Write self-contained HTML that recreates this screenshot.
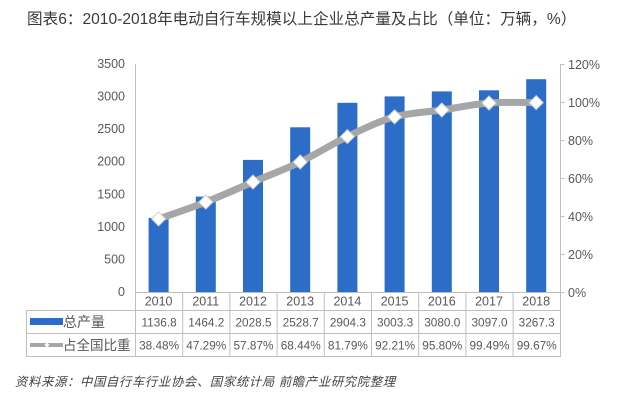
<!DOCTYPE html>
<html>
<head>
<meta charset="utf-8">
<style>
  html,body{margin:0;padding:0;background:#fff;}
  svg{display:block;}
  text{font-family:"Liberation Sans","Noto Sans CJK SC",sans-serif;}
</style>
</head>
<body>
<svg width="629" height="401" viewBox="0 0 629 401" xmlns="http://www.w3.org/2000/svg">
  <rect width="629" height="401" fill="#ffffff"/>
  <!-- Title -->
  <text x="27" y="24" font-size="15.6" fill="#3a3a3a">图表6：2010-2018年电动自行车规模以上企业总产量及占比（单位：万辆，%）</text>

  <!-- Left axis labels -->
  <g font-size="12.5" fill="#595959" text-anchor="end">
    <text x="125" y="68">3500</text>
    <text x="125" y="100.6">3000</text>
    <text x="125" y="133.1">2500</text>
    <text x="125" y="165.7">2000</text>
    <text x="125" y="198.3">1500</text>
    <text x="125" y="230.9">1000</text>
    <text x="125" y="263.4">500</text>
    <text x="125" y="296">0</text>
  </g>
  <!-- Right axis labels -->
  <g font-size="12.5" fill="#595959">
    <text x="568" y="69">120%</text>
    <text x="568" y="107">100%</text>
    <text x="568" y="145">80%</text>
    <text x="568" y="183">60%</text>
    <text x="568" y="221">40%</text>
    <text x="568" y="259">20%</text>
    <text x="568" y="297">0%</text>
  </g>

  <!-- Bars -->
  <g fill="#2c6dc8">
    <rect x="148.6" y="217.9" width="20" height="74.1"/>
    <rect x="195.8" y="196.6" width="20" height="95.4"/>
    <rect x="243.0" y="159.9" width="20" height="132.1"/>
    <rect x="290.2" y="127.3" width="20" height="164.7"/>
    <rect x="337.4" y="102.8" width="20" height="189.2"/>
    <rect x="384.6" y="96.4" width="20" height="195.6"/>
    <rect x="431.8" y="91.4" width="20" height="200.6"/>
    <rect x="479.0" y="90.3" width="20" height="201.7"/>
    <rect x="526.2" y="79.2" width="20" height="212.8"/>
  </g>

  <!-- Axes -->
  <g stroke="#bfbfbf" stroke-width="1" fill="none">
    <line x1="135.5" y1="64" x2="135.5" y2="292"/>
    <line x1="560.5" y1="64" x2="560.5" y2="292"/>
    <line x1="560.5" y1="64.5" x2="564.5" y2="64.5"/>
    <line x1="560.5" y1="102.5" x2="564.5" y2="102.5"/>
    <line x1="560.5" y1="140.5" x2="564.5" y2="140.5"/>
    <line x1="560.5" y1="178.5" x2="564.5" y2="178.5"/>
    <line x1="560.5" y1="216.5" x2="564.5" y2="216.5"/>
    <line x1="560.5" y1="254.5" x2="564.5" y2="254.5"/>
    <line x1="560.5" y1="292.5" x2="564.5" y2="292.5"/>
  </g>

  <!-- Line series -->
  <path d="M158.6,218.9 C166.5,216.1 190.1,208.25 205.8,202.1 C221.5,195.95 237.3,188.7 253.0,182.0 C268.7,175.3 284.5,169.6 300.2,162.0 C315.9,154.4 331.7,144.1 347.4,136.6 C363.1,129.1 378.9,121.2 394.6,116.8 C410.3,112.4 426.1,112.3 441.8,110.0 C457.5,107.7 473.3,104.2 489.0,103.0 C504.7,101.8 528.3,102.67 536.2,102.6"
        fill="none" stroke="#a6a6a6" stroke-width="7" stroke-linecap="round" stroke-linejoin="round"/>
  <g fill="#ffffff" stroke="#d0d0d0" stroke-width="1">
    <path d="M158.6,211.9 L165.6,218.9 L158.6,225.9 L151.6,218.9 Z"/>
    <path d="M205.8,195.1 L212.8,202.1 L205.8,209.1 L198.8,202.1 Z"/>
    <path d="M253.0,175.0 L260.0,182.0 L253.0,189.0 L246.0,182.0 Z"/>
    <path d="M300.2,155.0 L307.2,162.0 L300.2,169.0 L293.2,162.0 Z"/>
    <path d="M347.4,129.6 L354.4,136.6 L347.4,143.6 L340.4,136.6 Z"/>
    <path d="M394.6,109.8 L401.6,116.8 L394.6,123.8 L387.6,116.8 Z"/>
    <path d="M441.8,103.0 L448.8,110.0 L441.8,117.0 L434.8,110.0 Z"/>
    <path d="M489.0,96.0 L496.0,103.0 L489.0,110.0 L482.0,103.0 Z"/>
    <path d="M536.2,95.6 L543.2,102.6 L536.2,109.6 L529.2,102.6 Z"/>
  </g>

  <!-- Data table grid -->
  <g stroke="#bfbfbf" stroke-width="1" fill="none">
    <line x1="135" y1="292.5" x2="561" y2="292.5"/>
    <line x1="26" y1="310.5" x2="561" y2="310.5"/>
    <line x1="26" y1="333.5" x2="561" y2="333.5"/>
    <line x1="26" y1="356.5" x2="561" y2="356.5"/>
    <line x1="26.5" y1="310" x2="26.5" y2="357"/>
    <line x1="135.5" y1="292" x2="135.5" y2="357"/>
    <line x1="182.7" y1="292" x2="182.7" y2="357"/>
    <line x1="229.9" y1="292" x2="229.9" y2="357"/>
    <line x1="277.1" y1="292" x2="277.1" y2="357"/>
    <line x1="324.3" y1="292" x2="324.3" y2="357"/>
    <line x1="371.5" y1="292" x2="371.5" y2="357"/>
    <line x1="418.7" y1="292" x2="418.7" y2="357"/>
    <line x1="465.9" y1="292" x2="465.9" y2="357"/>
    <line x1="513.1" y1="292" x2="513.1" y2="357"/>
    <line x1="560.5" y1="292" x2="560.5" y2="357"/>
  </g>

  <!-- Category labels -->
  <g font-size="12.5" fill="#595959" text-anchor="middle">
    <text x="158.6" y="305.5">2010</text>
    <text x="205.8" y="305.5">2011</text>
    <text x="253.0" y="305.5">2012</text>
    <text x="300.2" y="305.5">2013</text>
    <text x="347.4" y="305.5">2014</text>
    <text x="394.6" y="305.5">2015</text>
    <text x="441.8" y="305.5">2016</text>
    <text x="489.0" y="305.5">2017</text>
    <text x="536.2" y="305.5">2018</text>
  </g>
  <!-- Row 1 -->
  <rect x="30" y="318" width="33" height="7" fill="#2c6dc8"/>
  <text x="63" y="327" font-size="14" fill="#595959">总产量</text>
  <g font-size="11.8" fill="#595959" text-anchor="middle">
    <text x="159.1" y="326.5">1136.8</text>
    <text x="206.3" y="326.5">1464.2</text>
    <text x="253.5" y="326.5">2028.5</text>
    <text x="300.7" y="326.5">2528.7</text>
    <text x="347.9" y="326.5">2904.3</text>
    <text x="395.1" y="326.5">3003.3</text>
    <text x="442.3" y="326.5">3080.0</text>
    <text x="489.5" y="326.5">3097.0</text>
    <text x="536.7" y="326.5">3267.3</text>
  </g>
  <!-- Row 2 -->
  <line x1="30" y1="345" x2="63" y2="345" stroke="#a6a6a6" stroke-width="4"/>
  <path d="M47,342.5 L49.5,345 L47,347.5 L44.5,345 Z" fill="#fff"/>
  <text x="63" y="350" font-size="13.5" fill="#595959">占全国比重</text>
  <g font-size="11.8" fill="#595959" text-anchor="middle">
    <text x="159.1" y="349.5">38.48%</text>
    <text x="206.3" y="349.5">47.29%</text>
    <text x="253.5" y="349.5">57.87%</text>
    <text x="300.7" y="349.5">68.44%</text>
    <text x="347.9" y="349.5">81.79%</text>
    <text x="395.1" y="349.5">92.21%</text>
    <text x="442.3" y="349.5">95.80%</text>
    <text x="489.5" y="349.5">99.49%</text>
    <text x="536.7" y="349.5">99.67%</text>
  </g>

  <!-- Source -->
  <text x="15" y="386" font-size="12.4" font-style="italic" letter-spacing="0.6" fill="#444">资料来源：中国自行车行业协会、国家统计局 前瞻产业研究院整理</text>
</svg>
</body>
</html>
